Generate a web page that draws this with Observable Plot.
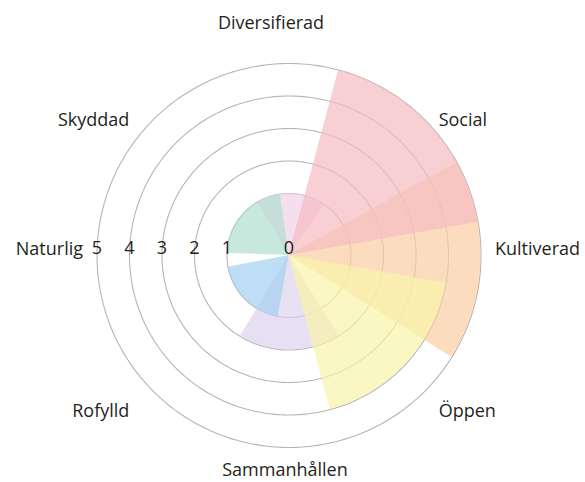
<!DOCTYPE html>
<html><head><meta charset="utf-8">
<script src="https://cdn.jsdelivr.net/npm/d3@7"></script>
<script src="https://cdn.jsdelivr.net/npm/@observablehq/plot@0.6"></script>
<style>
body{margin:0;background:#fff;}
#chart{width:585px;height:482px;}
</style></head><body><div id="chart"></div>
<script>
// categories (clockwise from the top)
const categories = ["Diversifierad","Social","Kultiverad","Öppen","Sammanhållen","Rofylld","Naturlig","Skyddad"];
const labelAngles = [0, 45, 90, 135, 180, 225, 270, 315];
// values
const values = [1, 5, 5, 4, 2, 1, 0, 1];
// angular span of each sector (degrees clockwise from north)
const spanStart = [330, 15, 61, 100, 148, 190, 0, 272];
const spanEnd   = [ 35, 80, 122, 165, 211, 259, 0, 352];
const colors = ["#f1d0e7","#f5bcc2","#fbcda2","#f9f4a9","#dbd3ec","#a2d0f1","#b0ded0","#b0ded0"];
const drawOrder = ["Diversifierad","Sammanhållen","Rofylld","Naturlig","Skyddad","Kultiverad","Social","Öppen"];
const ringValues = [1, 2, 3, 4, 5];
const tickValues = [0, 1, 2, 3, 4, 5];

// radial scale (0 at centre, 1 on first ring, evenly spaced to 5)
const rScale = d3.scaleLinear().domain([0, 1, 5]).range([0, 62, 192]);
const rad = a => a * Math.PI / 180;
const toXY = (r, a) => ({x: r * Math.sin(rad(a)), y: r * Math.cos(rad(a))});

// sector outlines
const sectorPts = [];
for (const cat of drawOrder) {
  const i = categories.indexOf(cat);
  if (!values[i]) continue;
  let a0 = spanStart[i], a1 = spanEnd[i];
  if (a1 < a0) a1 += 360;
  const r = rScale(values[i]);
  for (let a = a0; a <= a1 + 1e-9; a += 0.5) sectorPts.push({cat, ...toXY(r, a)});
}
// rings
const ringPts = [];
for (const v of ringValues) for (let a = 0; a <= 360; a += 1) ringPts.push({ring: v, ...toXY(rScale(v), a)});

const labelR = 206;
const labels = categories.map((c, i) => ({c, a: labelAngles[i], ...toXY(labelR, labelAngles[i])}));
const diag = d => d.a % 90 !== 0;

const ink = "#231f20";
const fs = 18;
const chart = Plot.plot({
  width: 585, height: 482,
  margin: 0,
  x: {domain: [-288.5, 296.5], axis: null},
  y: {domain: [-227, 255], axis: null},
  color: {domain: categories, range: colors},
  style: {fontFamily: "'Open Sans', sans-serif", fontSize: fs + "px", background: "white", color: ink},
  marks: [
    Plot.line(ringPts, {x: "x", y: "y", z: "ring", stroke: "#b5b5b5", strokeWidth: 1.1}),
    Plot.area(sectorPts, {x1: "x", y1: "y", x2: 0, y2: 0, z: "cat", fill: "cat", fillOpacity: 0.7, curve: "linear"}),
    Plot.text(tickValues, {x: d => -rScale(d), y: 0, dy: -7, text: d => String(d), fill: ink, fontSize: fs}),
    Plot.text(labels.filter(d => d.a === 0), {x: "x", y: "y", text: "c", textAnchor: "middle", dx: -18, dy: -26, fill: ink, fontSize: fs}),
    Plot.text(labels.filter(d => d.a === 180), {x: "x", y: "y", text: "c", textAnchor: "middle", dx: -4, dy: 9, fill: ink, fontSize: fs}),
    Plot.text(labels.filter(d => d.a === 90), {x: "x", y: "y", text: "c", textAnchor: "start", dy: -6, fill: ink, fontSize: fs}),
    Plot.text(labels.filter(d => d.a === 270), {x: "x", y: "y", text: "c", textAnchor: "end", dy: -6, fill: ink, fontSize: fs}),
    Plot.text(labels.filter(d => diag(d) && d.a < 180), {x: "x", y: "y", text: "c", textAnchor: "start", dx: 4, dy: 10, fill: ink, fontSize: fs}),
    Plot.text(labels.filter(d => diag(d) && d.a > 180), {x: "x", y: "y", text: "c", textAnchor: "end", dx: -14, dy: 10, fill: ink, fontSize: fs})
  ]
});
document.getElementById("chart").appendChild(chart);
</script></body></html>
